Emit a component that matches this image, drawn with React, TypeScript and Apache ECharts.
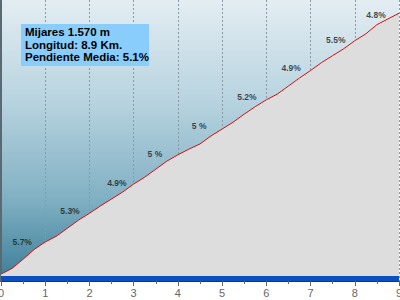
import React, { useEffect, useRef } from "react";
import * as echarts from "echarts";

const distanceKm = [0, 0.25, 0.5, 0.75, 1, 1.25, 1.5, 1.75, 2, 2.25, 2.5, 2.75, 3, 3.25, 3.5, 3.75, 4, 4.25, 4.5, 4.75, 5, 5.25, 5.5, 5.75, 6, 6.25, 6.5, 6.75, 7, 7.25, 7.5, 7.75, 8, 8.25, 8.5, 8.75, 9];
const elevationM = [1116, 1126, 1142, 1159, 1172, 1182, 1196, 1210, 1222, 1235, 1247, 1259, 1273, 1285, 1299, 1313, 1324, 1334, 1343, 1357, 1369, 1381, 1395, 1408, 1420, 1430, 1444, 1458, 1471, 1485, 1497, 1509, 1523, 1535, 1551, 1561, 1571];

const gradeLabels = ["5.7%", "5.3%", "4.9%", "5 %", "5 %", "5.2%", "4.9%", "5.5%", "4.8%"];
const gradeLabelKm = [0.48, 1.56, 2.62, 3.48, 4.48, 5.56, 6.56, 7.57, 8.48];
const gradeLabelElev = [1172, 1226, 1275, 1325, 1374, 1425, 1475, 1524, 1568];

const infoLines = ["Mijares 1.570 m", "Longitud: 8.9 Km.", "Pendiente Media: 5.1%"];

export default function App() {
  const ref = useRef<HTMLDivElement>(null);
  useEffect(() => {
    if (!ref.current) return;
    const chart = echarts.init(ref.current, null, { renderer: "svg" });
    const profile = distanceKm.map((d, i) => [d, elevationM[i]]);
    const labels = gradeLabelKm.map((d, i) => ({ value: [d, gradeLabelElev[i]], name: gradeLabels[i] }));
    chart.setOption({
      animation: false,
      backgroundColor: "#ffffff",
      grid: {
        left: 1,
        right: 1,
        top: 0,
        bottom: 19,
        containLabel: false,
        outerBoundsMode: "none",
        show: true,
        borderWidth: 0,
        backgroundColor: new echarts.graphic.LinearGradient(0, 0, 0, 1, [
          { offset: 0, color: "#e3edf2" },
          { offset: 0.35, color: "#b9d4e0" },
          { offset: 0.7, color: "#82b1c4" },
          { offset: 1, color: "#3b7e97" },
        ]),
      },
      xAxis: {
        type: "value",
        min: 0,
        max: 9,
        interval: 1,
        axisLine: { show: true, onZero: false, lineStyle: { color: "#333333", width: 1 } },
        axisTick: { show: true, length: 5, lineStyle: { color: "#666666" } },
        minorTick: { show: true, splitNumber: 2, length: 3, lineStyle: { color: "#666666" } },
        axisLabel: { color: "#666666", fontSize: 11, fontFamily: "Arial, Liberation Sans, sans-serif", margin: 6 },
        splitLine: {
          show: true,
          interval: (_i: number, v: number) => v > 0 && v < 9,
          lineStyle: { color: "#8a9aa2", type: [2, 2], width: 1 },
        },
      },
      yAxis: {
        type: "value",
        min: 1104,
        max: 1594,
        axisLine: { show: true, lineStyle: { color: "#5a6a72", width: 2 } },
        axisTick: { show: false },
        axisLabel: { show: false },
        splitLine: { show: false },
      },
      series: [
        {
          type: "line",
          data: profile,
          symbol: "none",
          lineStyle: { color: "#d01010", width: 1 },
          areaStyle: { color: "#dddddd", opacity: 1 },
          z: 3,
        },
        {
          type: "scatter",
          data: labels,
          symbolSize: 0,
          z: 5,
          label: {
            show: true,
            position: "inside",
            formatter: (p: any) => p.name,
            color: "#1a1a1a",
            fontSize: 8.5,
            fontWeight: "bold",
            fontFamily: "Arial, Liberation Sans, sans-serif",
          },
        },
      ],
      graphic: [
        {
          type: "rect",
          left: 1,
          top: 276,
          shape: { width: 398, height: 5 },
          style: { fill: "#0b4fc0" },
          z: 100,
        },
        {
          type: "rect",
          left: 21,
          top: 24,
          shape: { width: 128, height: 42 },
          style: { fill: "#88cdfc" },
          z: 100,
        },
        {
          type: "text",
          left: 25,
          top: 26,
          z: 101,
          style: {
            text: infoLines.join("\n"),
            fill: "#000000",
            font: "bold 11.5px Arial, 'Liberation Sans', sans-serif",
            lineHeight: 12.5,
          },
        },
      ],
    });
    return () => chart.dispose();
  }, []);
  return <div ref={ref} style={{ width: 400, height: 300, position: "absolute", left: 0, top: 0 }} />;
}
